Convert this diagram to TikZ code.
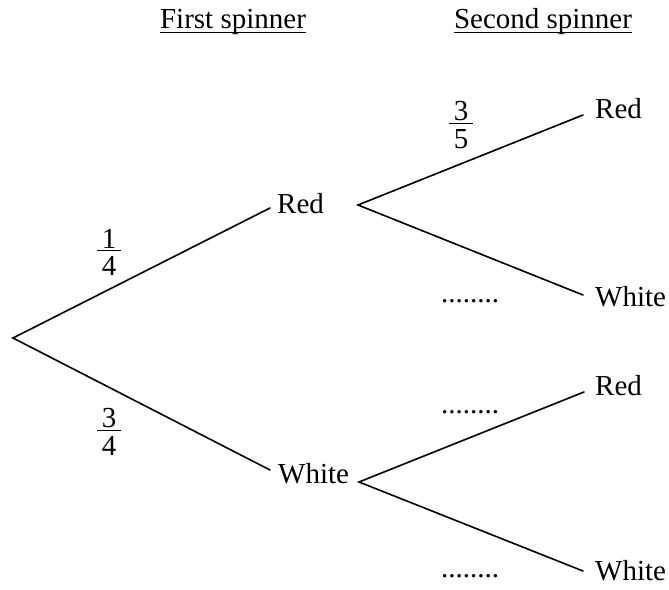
\documentclass[tikz,border=0pt]{standalone}
\usepackage{fontspec}
\setmainfont{Liberation Serif}
\newcommand{\myfrac}[2]{\vbox{\hsize=0.8em\offinterlineskip
 \hbox to \hsize{\hfil#1\hfil}\kern1.5pt
 \hrule height 1.4pt
 \kern5pt
 \hbox to \hsize{\hfil#2\hfil}}}
\begin{document}
\begin{tikzpicture}[x=1pt,y=-1pt]
\tikzset{
 txt/.style={inner sep=0pt, font=\fontsize{29}{34}\selectfont},
 lbl/.style={txt, anchor=base west},
 hdr/.style={txt, anchor=base},
 fracnode/.style={txt, anchor=center},
 dotsnode/.style={txt, anchor=base},
 branch/.style={line width=1.6pt, line cap=round},
 uline/.style={line width=1pt}
}
\useasboundingbox (0,0) rectangle (669,589);
% headers
\node[hdr] (h1) at (233,28) {First spinner};
\node[hdr] (h2) at (543,28) {Second spinner};
\draw[uline] ([yshift=-4pt]h1.base west) -- ([yshift=-4pt]h1.base east);
\draw[uline] ([yshift=-4pt]h2.base west) -- ([yshift=-4pt]h2.base east);
% labels
\node[lbl] (r1) at (277,213) {Red};
\node[lbl] (w1) at (278,483) {White};
\node[lbl] (rr) at (595,118) {Red};
\node[lbl] (rw) at (595,306) {White};
\node[lbl] (wr) at (595,395) {Red};
\node[lbl] (ww) at (595,580) {White};
% fractions
\node[fracnode] (f1) at (109,252) {\myfrac{1}{4}};
\node[fracnode] (f2) at (109,432) {\myfrac{3}{4}};
\node[fracnode] (f3) at (461,125) {\myfrac{3}{5}};
% dots
\node[dotsnode] (d1) at (470,302) {........};
\node[dotsnode] (d2) at (470,413) {........};
\node[dotsnode] (d3) at (470,577) {........};
% branch points
\coordinate (root) at (13,338);
\coordinate (e1) at (270,208);
\coordinate (e2) at (270,470);
\coordinate (o1) at (358,205);
\coordinate (o2) at (359,482);
\coordinate (e11) at (583,115);
\coordinate (e12) at (583,295);
\coordinate (e21) at (584,392);
\coordinate (e22) at (583,571);
\draw[branch] (e1) -- (root) -- (e2);
\draw[branch] (e11) -- (o1) -- (e12);
\draw[branch] (e21) -- (o2) -- (e22);
\end{tikzpicture}
\end{document}
